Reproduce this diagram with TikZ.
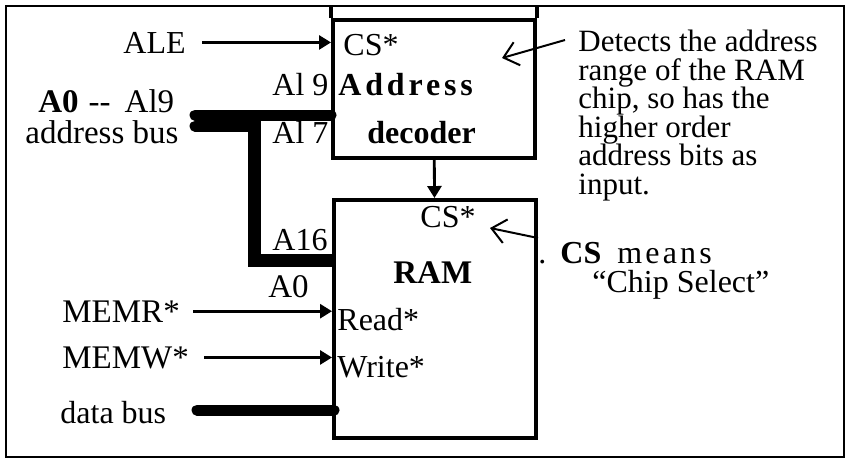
\documentclass[tikz,border=0pt]{standalone}
\usepackage{fontspec}
\setmainfont{Liberation Serif}
\usetikzlibrary{arrows.meta,positioning}

\begin{document}
\begin{tikzpicture}[x=0.5pt,y=-0.5pt,
    lbl/.style={inner sep=0pt,anchor=base west,font=\fontsize{16}{17}\selectfont},
    big/.style={lbl,font=\fontsize{16.5}{18}\selectfont},
    chip/.style={draw,line width=2pt,minimum width=101pt,inner sep=0pt},
    sig/.style={line width=1.4pt,-{Triangle[length=6pt,width=7pt]}},
    bus/.style={line width=5.5pt},
    callout/.style={line width=1pt,-{Straight Barb[length=7pt,width=12pt]}}]
        \useasboundingbox (0,0) rectangle (850,463);
        \draw[line width=1.2pt] (6,6) rectangle (844,457);
        \node[chip,minimum height=69pt] (dec) at (434,89) {};
        \node[chip,minimum height=119pt] (ram) at (435,319) {};
        \draw[line width=2pt] (dec.north west) -- ++(0,-12) (dec.north east) -- ++(0,-12);
        \node[lbl] (ale) at (123,53) {ALE};
        \node[lbl] (decsel) at (343,55) {CS*};
        \node[lbl] (hi) at (272,95) {Al 9};
        \node[lbl] (decname) at (338,95) {\bfseries\addfontfeatures{LetterSpace=12}Address};
        \node[lbl] (lo) at (272,143) {Al 7};
        \node[lbl] (decname2) at (367,143) {\bfseries decoder};
        \node[big] (abus) at (38,112) {\textbf{A0}\hspace{5pt}-{}-\hspace{7pt}Al9};
        \node[big] (abus2) at (25,143) {address bus};
        \node[lbl] (ramhi) at (272,250) {A16};
        \node[big] (ramlo) at (268,297) {A0};
        \node[lbl] (ramsel) at (420,227) {CS*};
        \node[big] (ramname) at (393,283) {\bfseries RAM};
        \node[big] (memr) at (62,322) {MEMR*};
        \node[lbl] (rd) at (337,330) {Read*};
        \node[big] (memw) at (62,368) {MEMW*};
        \node[lbl] (wr) at (337,377) {Write*};
        \node[lbl] (dbus) at (60,423) {data bus};
        \node[lbl,anchor=north west,align=left,font=\fontsize{15.5}{14.25}\selectfont] (note) at (578,30)
            {Detects the address\\range of the RAM\\chip, so has the\\higher order\\address bits as\\input.};
        \node[lbl] (csnote) at (538,263) {.\hspace{7pt}\textbf{CS}\hspace{8pt}{\addfontfeatures{LetterSpace=10}means}};
        \node[lbl] (chipsel) at (592,292) {``Chip Select''};
        \draw[sig] ([xshift=8pt]ale.east) -- (ale.east -| dec.west);
        \draw[sig] ([xshift=6.5pt]memr.east) -- (memr.east -| ram.west);
        \draw[sig] ([xshift=7.5pt]memw.east) -- (memw.east -| ram.west);
        \draw[sig] (dec) -- (ram);
        \coordinate (busL) at (195,115);
        \coordinate (tap) at (254,115);
        \coordinate (busR) at (254,260);
        \coordinate (dbusL) at (197,410);
        \draw[bus,line cap=round] (busL) -- (busL -| dec.west);
        \draw[bus,line cap=round] ([yshift=-5.5pt]busL) -- ([yshift=-5.5pt]tap);
        \draw[bus,line width=6.5pt] (tap) -- (busR) -- (busR -| ram.west);
        \draw[bus,line cap=round] (dbusL) -- ([xshift=1pt]dbusL -| ram.west);
        \draw[callout] ([shift={(-13,10)}]note.north west) -- ([shift={(-35,40)}]dec.north east);
        \draw[callout] ([shift={(0,40)}]ram.north east) -- ([shift={(-48,30)}]ram.north east);
      \end{tikzpicture}
\end{document}
